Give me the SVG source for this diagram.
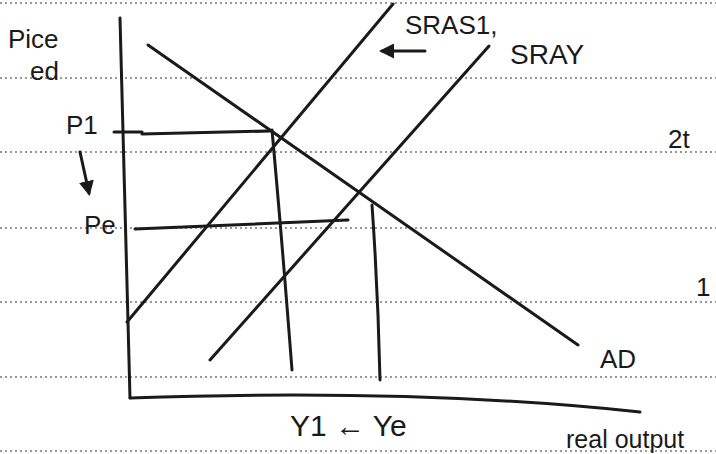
<svg xmlns="http://www.w3.org/2000/svg" width="716" height="454" viewBox="0 0 716 454">
<style>
.rule{stroke:#777;stroke-width:1.5;stroke-dasharray:2 3;fill:none}
.ink{stroke:#1a1a1a;stroke-width:3;fill:none;stroke-linecap:round;stroke-linejoin:round}
.t{font-family:"Liberation Sans","DejaVu Sans",sans-serif;fill:#1a1a1a;font-size:26px}
</style>
<defs>
<marker id="ah" viewBox="0 0 10 10" refX="8" refY="5" markerWidth="5" markerHeight="5" orient="auto"><path d="M0,0 L10,5 L0,10 z" fill="#1a1a1a"/></marker>
</defs>
<rect width="716" height="454" fill="#fff"/>
<g id="rules">
<line class="rule" x1="0" y1="3" x2="716" y2="3"/>
<line class="rule" x1="0" y1="78" x2="716" y2="78"/>
<line class="rule" x1="0" y1="152" x2="716" y2="152"/>
<line class="rule" x1="0" y1="228" x2="716" y2="228"/>
<line class="rule" x1="0" y1="302" x2="716" y2="302"/>
<line class="rule" x1="0" y1="377" x2="716" y2="377"/>
<line class="rule" x1="0" y1="451" x2="716" y2="451"/>
</g>
<g id="connectors">
<path id="y-axis" class="ink" d="M120,18 Q124,200 130,398"/>
<path id="x-axis" class="ink" d="M130,398 Q420,388 640,412"/>
<path id="sras1" class="ink" d="M127,322 L393,4"/>
<path id="sray" class="ink" d="M210,360 L489,46"/>
<path id="ad" class="ink" d="M148,45 L578,345"/>
<path id="p1-line" class="ink" d="M114,132 L142,132 M142,134 L270,131"/>
<path id="pe-line" class="ink" d="M135,229 L348,220"/>
<path id="y1-line" class="ink" d="M272,130 Q282,240 292,370"/>
<path id="ye-line" class="ink" d="M372,205 Q378,290 380,380"/>
<path id="arrow-sras" class="ink" d="M425,51 L382,51" marker-end="url(#ah)"/>
<path id="arrow-p" class="ink" d="M80,152 L89,193" marker-end="url(#ah)"/>
</g>
<g id="labels">
<text class="t" x="8" y="48">Pice</text>
<text class="t" x="30" y="80">ed</text>
<text class="t" x="405" y="34">SRAS1,</text>
<text class="t" x="510" y="64" style="font-size:28px">SRAY</text>
<text class="t" x="66" y="134">P1</text>
<text class="t" x="84" y="234">Pe</text>
<text class="t" x="668" y="148">2t</text>
<text class="t" x="696" y="296">1</text>
<text class="t" x="600" y="368">AD</text>
<text class="t" x="290" y="436" style="font-size:30px">Y1 ← Ye</text>
<text class="t" x="566" y="448" style="font-size:25px">real output</text>
</g>
</svg>
